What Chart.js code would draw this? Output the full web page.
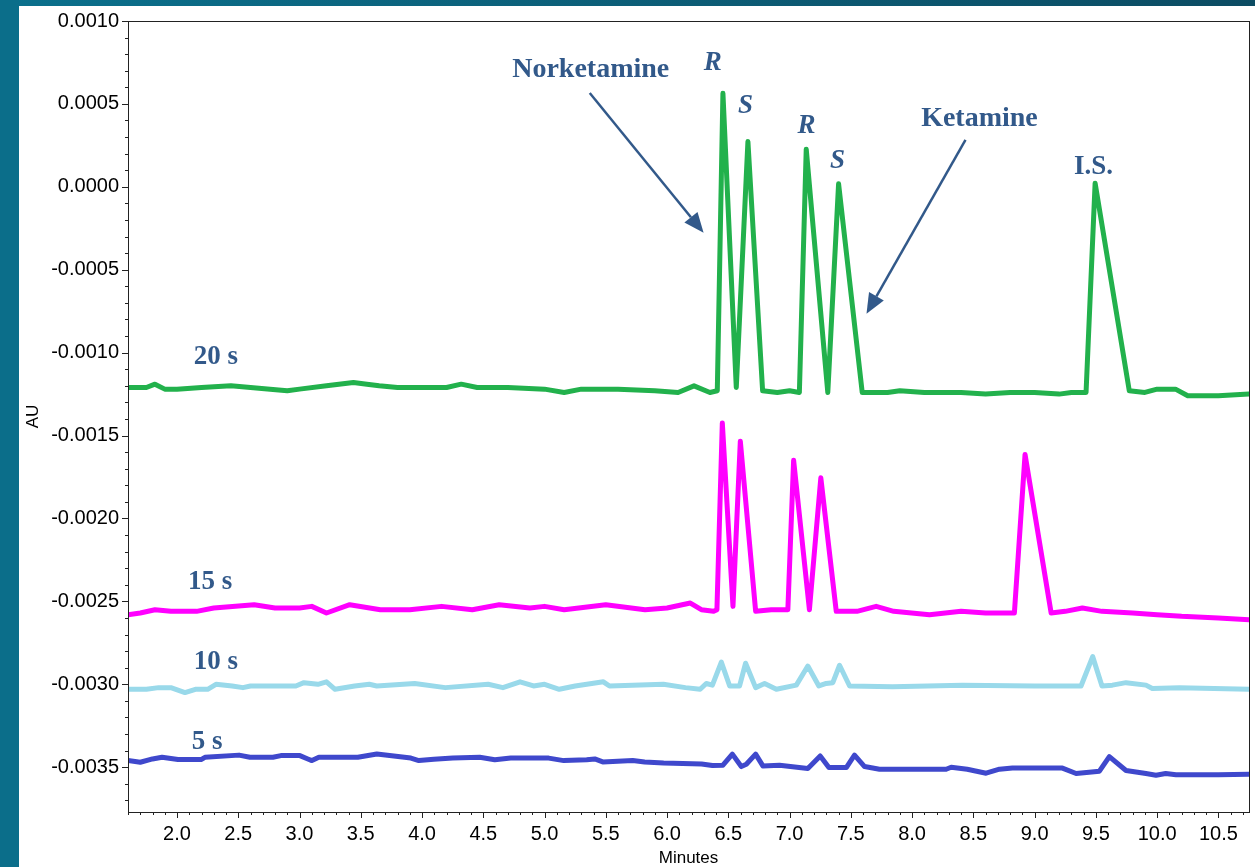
<!DOCTYPE html>
<html>
<head>
<meta charset="utf-8">
<script src="https://cdn.jsdelivr.net/npm/chart.js@4.4.1/dist/chart.umd.min.js"></script>
<style>
html, body { margin: 0; padding: 0; background: #0b6e8a; }
#wrap { width: 1255px; height: 867px; }
</style>
</head>
<body>
<div id="wrap"><canvas id="chart" width="1255" height="867"></canvas></div>
<script>
// chromatogram traces, [minutes, AU]
const trace20s = [
    [1.6, -0.00121], [1.75, -0.00121], [1.82, -0.00119], [1.9, -0.00122], [2.0, -0.00122],
    [2.2, -0.00121], [2.44, -0.00120], [2.6, -0.00121], [2.76, -0.00122], [2.9, -0.00123],
    [3.0, -0.00122], [3.22, -0.00120], [3.44, -0.00118], [3.55, -0.00119], [3.65, -0.00120],
    [3.8, -0.00121], [4.0, -0.00121], [4.2, -0.00121], [4.32, -0.00119], [4.45, -0.00121],
    [4.7, -0.00121], [5.0, -0.00122], [5.16, -0.00124], [5.3, -0.00122], [5.6, -0.00122],
    [5.9, -0.00123], [6.09, -0.00124], [6.22, -0.00120], [6.35, -0.00124], [6.41, -0.00123],
    [6.456, 0.000564], [6.565, -0.00121], [6.66, 0.000273], [6.78, -0.00123], [6.9, -0.00124],
    [7.0, -0.00123], [7.08, -0.00124], [7.136, 0.000227], [7.312, -0.00124], [7.40, 0.000018],
    [7.593, -0.00124], [7.8, -0.00124], [7.9, -0.00123], [8.1, -0.00124], [8.4, -0.00124],
    [8.6, -0.00125], [8.8, -0.00124], [9.0, -0.00124], [9.2, -0.00125], [9.3, -0.00124],
    [9.42, -0.00124], [9.494, 0.000022], [9.773, -0.00123], [9.9, -0.00124], [10.0, -0.00122],
    [10.15, -0.00122], [10.25, -0.00126], [10.5, -0.00126], [10.75, -0.00125]
];
const trace15s = [
    [1.6, -0.00258], [1.7, -0.00257], [1.82, -0.00255], [1.95, -0.00256], [2.16, -0.00256],
    [2.3, -0.00254], [2.63, -0.00252], [2.8, -0.00254], [3.0, -0.00254], [3.10, -0.00253],
    [3.22, -0.00257], [3.41, -0.00252], [3.66, -0.00255], [3.9, -0.00255], [4.16, -0.00253],
    [4.41, -0.00255], [4.63, -0.00252], [4.88, -0.00254], [5.0, -0.00253], [5.16, -0.00255],
    [5.5, -0.00252], [5.82, -0.00255], [6.0, -0.00254], [6.19, -0.00251], [6.28, -0.00255],
    [6.38, -0.00256], [6.407, -0.00255], [6.451, -0.001424], [6.538, -0.00253], [6.598, -0.001534],
    [6.723, -0.00256], [6.85, -0.00255], [6.986, -0.00255], [7.033, -0.001649], [7.162, -0.00255],
    [7.255, -0.001755], [7.381, -0.00256], [7.55, -0.00256], [7.707, -0.00253], [7.85, -0.00256],
    [8.142, -0.00258], [8.4, -0.00256], [8.6, -0.00257], [8.835, -0.00257], [8.922, -0.001614],
    [9.135, -0.00257], [9.25, -0.00256], [9.39, -0.00254], [9.55, -0.00256], [9.8, -0.00257],
    [10.0, -0.00258], [10.2, -0.00259], [10.5, -0.00260], [10.75, -0.00261]
];
const trace10s = [
    [1.6, -0.00303], [1.75, -0.00303], [1.85, -0.00302], [1.95, -0.00302], [2.065, -0.00305],
    [2.15, -0.00303], [2.25, -0.00303], [2.318, -0.00300], [2.45, -0.00301], [2.538, -0.00302],
    [2.6, -0.00301], [2.97, -0.00301], [3.036, -0.00299], [3.15, -0.00300], [3.22, -0.002985],
    [3.29, -0.00303], [3.45, -0.00301], [3.57, -0.00300], [3.63, -0.00301], [3.94, -0.002995],
    [4.19, -0.00302], [4.54, -0.00300], [4.66, -0.00302], [4.80, -0.002985], [4.91, -0.00301],
    [5.0, -0.00300], [5.12, -0.00303], [5.25, -0.00301], [5.48, -0.002985], [5.53, -0.00301],
    [5.97, -0.00300], [6.15, -0.00302], [6.27, -0.00303], [6.32, -0.002995], [6.37, -0.003005],
    [6.443, -0.002866], [6.511, -0.00301], [6.592, -0.00301], [6.641, -0.002873], [6.723, -0.00302],
    [6.796, -0.002995], [6.892, -0.00303], [7.055, -0.003005], [7.149, -0.00289], [7.239, -0.00301],
    [7.299, -0.002995], [7.353, -0.00299], [7.408, -0.002885], [7.49, -0.00301], [7.84, -0.003015],
    [8.411, -0.003005], [9.0, -0.00301], [9.379, -0.00301], [9.474, -0.002833], [9.55, -0.00301],
    [9.635, -0.003005], [9.746, -0.00299], [9.909, -0.003005], [9.961, -0.003025], [10.181, -0.00302],
    [10.75, -0.00303]
];
const trace5s = [
    [1.6, -0.00346], [1.7, -0.00347], [1.8, -0.00345], [1.878, -0.00344], [2.008, -0.003454],
    [2.196, -0.003454], [2.228, -0.00344], [2.506, -0.003427], [2.595, -0.00344], [2.783, -0.00344],
    [2.848, -0.00343], [3.003, -0.00343], [3.068, -0.00345], [3.101, -0.00346], [3.158, -0.00344],
    [3.476, -0.00344], [3.631, -0.00342], [3.909, -0.003445], [3.974, -0.00346], [4.096, -0.003452],
    [4.251, -0.003445], [4.471, -0.00344], [4.594, -0.003455], [4.724, -0.003445], [5.034, -0.003445],
    [5.157, -0.00346], [5.344, -0.003455], [5.41, -0.00345], [5.475, -0.003468], [5.72, -0.00346],
    [5.817, -0.003468], [5.972, -0.003474], [6.282, -0.00348], [6.37, -0.00349], [6.456, -0.003488],
    [6.533, -0.003421], [6.606, -0.003496], [6.647, -0.003482], [6.723, -0.003421], [6.782, -0.003492],
    [6.918, -0.003488], [7.149, -0.003508], [7.25, -0.003432], [7.321, -0.003502], [7.463, -0.003502],
    [7.53, -0.003427], [7.612, -0.003496], [7.734, -0.003512], [8.278, -0.003512], [8.319, -0.0035],
    [8.45, -0.003512], [8.604, -0.003536], [8.713, -0.003512], [8.819, -0.003505], [9.227, -0.003505],
    [9.339, -0.003538], [9.529, -0.003524], [9.61, -0.003436], [9.746, -0.00352], [9.909, -0.003538],
    [9.991, -0.003548], [10.07, -0.003538], [10.154, -0.003545], [10.5, -0.003545], [10.75, -0.003542]
];

const seriesNames = ["20 s", "15 s", "10 s", "5 s"];
const seriesColors = ["#22b14c", "#ff00ff", "#99d9ea", "#3f48cc"];

// text annotations placed in data coordinates
const labelColor = "#32598a";
const notes = [
    { text: "Norketamine", x: 5.377, y: 0.000705, font: "bold 28px 'Liberation Serif'" },
    { text: "R", x: 6.372, y: 0.000745, font: "italic bold 27px 'Liberation Serif'" },
    { text: "S", x: 6.641, y: 0.000490, font: "italic bold 27px 'Liberation Serif'" },
    { text: "R", x: 7.139, y: 0.000365, font: "italic bold 27px 'Liberation Serif'" },
    { text: "S", x: 7.392, y: 0.000155, font: "italic bold 27px 'Liberation Serif'" },
    { text: "Ketamine", x: 8.55, y: 0.000412, font: "bold 28px 'Liberation Serif'" },
    { text: "I.S.", x: 9.48, y: 0.000117, font: "bold 27px 'Liberation Serif'" },
    { text: "20 s", x: 2.318, y: -0.001028, font: "bold 27px 'Liberation Serif'" },
    { text: "15 s", x: 2.27, y: -0.002383, font: "bold 27px 'Liberation Serif'" },
    { text: "10 s", x: 2.318, y: -0.002865, font: "bold 27px 'Liberation Serif'" },
    { text: "5 s", x: 2.245, y: -0.003347, font: "bold 27px 'Liberation Serif'" },
];
const arrows = [
    { from: [5.369, 0.000566], to: [6.298, -0.000277] },
    { from: [8.436, 0.000283], to: [7.628, -0.000765] },
];

const isMajor = (v, step) => Math.abs(v / step - Math.round(v / step)) < 1e-6;

const backdrop = {
    id: "backdrop",
    beforeDraw(chart) {
        const { ctx, width, height } = chart;
        ctx.save();
        const g = ctx.createLinearGradient(0, 0, width, 0);
        g.addColorStop(0, "#0b708c");
        g.addColorStop(1, "#0c4c63");
        ctx.fillStyle = g;
        ctx.fillRect(0, 0, width, height);
        ctx.fillStyle = "#0b6e8a";
        ctx.fillRect(0, 0, 19, height);
        ctx.fillStyle = "#ffffff";
        ctx.fillRect(19, 6, width - 19, height - 6);
        ctx.restore();
    },
};

const frameAndTicks = {
    id: "frameAndTicks",
    afterDraw(chart) {
        const { ctx, chartArea: a } = chart;
        const xs = chart.scales.x, ys = chart.scales.y;
        ctx.save();
        ctx.strokeStyle = "#222";
        ctx.lineWidth = 1;
        ctx.strokeRect(Math.round(a.left) + 0.5, Math.round(a.top) + 0.5,
            Math.round(a.right - a.left), Math.round(a.bottom - a.top));
        ctx.beginPath();
        xs.ticks.forEach(tk => {
            const p = Math.round(xs.getPixelForValue(tk.value)) + 0.5;
            const len = isMajor(tk.value, 0.5) ? 6 : 3;
            ctx.moveTo(p, a.bottom);
            ctx.lineTo(p, a.bottom + len);
        });
        ys.ticks.forEach(tk => {
            const p = Math.round(ys.getPixelForValue(tk.value)) + 0.5;
            const len = isMajor(tk.value, 0.0005) ? 6 : 3;
            ctx.moveTo(a.left, p);
            ctx.lineTo(a.left - len, p);
        });
        ctx.stroke();

        // arrows
        ctx.strokeStyle = labelColor;
        ctx.fillStyle = labelColor;
        ctx.lineWidth = 2.5;
        arrows.forEach(ar => {
            const x1 = xs.getPixelForValue(ar.from[0]), y1 = ys.getPixelForValue(ar.from[1]);
            const x2 = xs.getPixelForValue(ar.to[0]), y2 = ys.getPixelForValue(ar.to[1]);
            const ang = Math.atan2(y2 - y1, x2 - x1);
            const hl = 20, hw = 8.5;
            const bx = x2 - hl * Math.cos(ang), by = y2 - hl * Math.sin(ang);
            ctx.beginPath();
            ctx.moveTo(x1, y1);
            ctx.lineTo(bx, by);
            ctx.stroke();
            ctx.beginPath();
            ctx.moveTo(x2, y2);
            ctx.lineTo(bx + hw * Math.sin(ang), by - hw * Math.cos(ang));
            ctx.lineTo(bx - hw * Math.sin(ang), by + hw * Math.cos(ang));
            ctx.closePath();
            ctx.fill();
        });

        ctx.textAlign = "center";
        ctx.textBaseline = "middle";
        notes.forEach(n => {
            ctx.font = n.font;
            ctx.fillText(n.text, xs.getPixelForValue(n.x), ys.getPixelForValue(n.y));
        });
        ctx.restore();
    },
};

const traces = [trace20s, trace15s, trace10s, trace5s];

new Chart(document.getElementById("chart"), {
    type: "line",
    data: {
        datasets: traces.map((tr, i) => ({
            label: seriesNames[i],
            data: tr.map(([x, y]) => ({ x, y })),
            borderColor: seriesColors[i],
            borderWidth: 5,
            borderJoinStyle: "round",
            borderCapStyle: "round",
            pointRadius: 0,
            tension: 0,
            fill: false,
        })),
    },
    options: {
        responsive: false,
        animation: false,
        layout: { padding: { left: 0, top: 21, right: 6, bottom: 0 } },
        plugins: { legend: { display: false }, tooltip: { enabled: false } },
        scales: {
            x: {
                type: "linear",
                min: 1.6,
                max: 10.75,
                grid: { display: false },
                border: { display: false },
                afterFit: s => { s.height = 55; },
                ticks: {
                    stepSize: 0.1,
                    includeBounds: false,
                    autoSkip: false,
                    maxRotation: 0,
                    padding: 2,
                    color: "#000",
                    font: { family: "'Liberation Sans', Arial", size: 20 },
                    callback: v => isMajor(v, 0.5) ? v.toFixed(1) : "",
                },
                title: {
                    display: true,
                    text: "Minutes",
                    color: "#000",
                    font: { family: "'Liberation Sans', Arial", size: 17, lineHeight: 1 },
                    padding: 0,
                },
            },
            y: {
                min: -0.00377,
                max: 0.0010,
                grid: { display: false },
                border: { display: false },
                afterFit: s => { s.width = 128; },
                ticks: {
                    stepSize: 0.0001,
                    includeBounds: false,
                    autoSkip: false,
                    padding: 1,
                    color: "#000",
                    font: { family: "'Liberation Sans', Arial", size: 20 },
                    callback: v => {
                        if (!isMajor(v, 0.0005)) return "";
                        if (Math.abs(v) < 1e-9) v = 0;
                        return v.toFixed(4);
                    },
                },
                title: {
                    display: true,
                    text: "AU",
                    color: "#000",
                    font: { family: "'Liberation Sans', Arial", size: 17, lineHeight: 1.2 },
                    padding: { top: 23, bottom: 0 },
                },
            },
        },
    },
    plugins: [backdrop, frameAndTicks],
});
</script>
</body>
</html>
